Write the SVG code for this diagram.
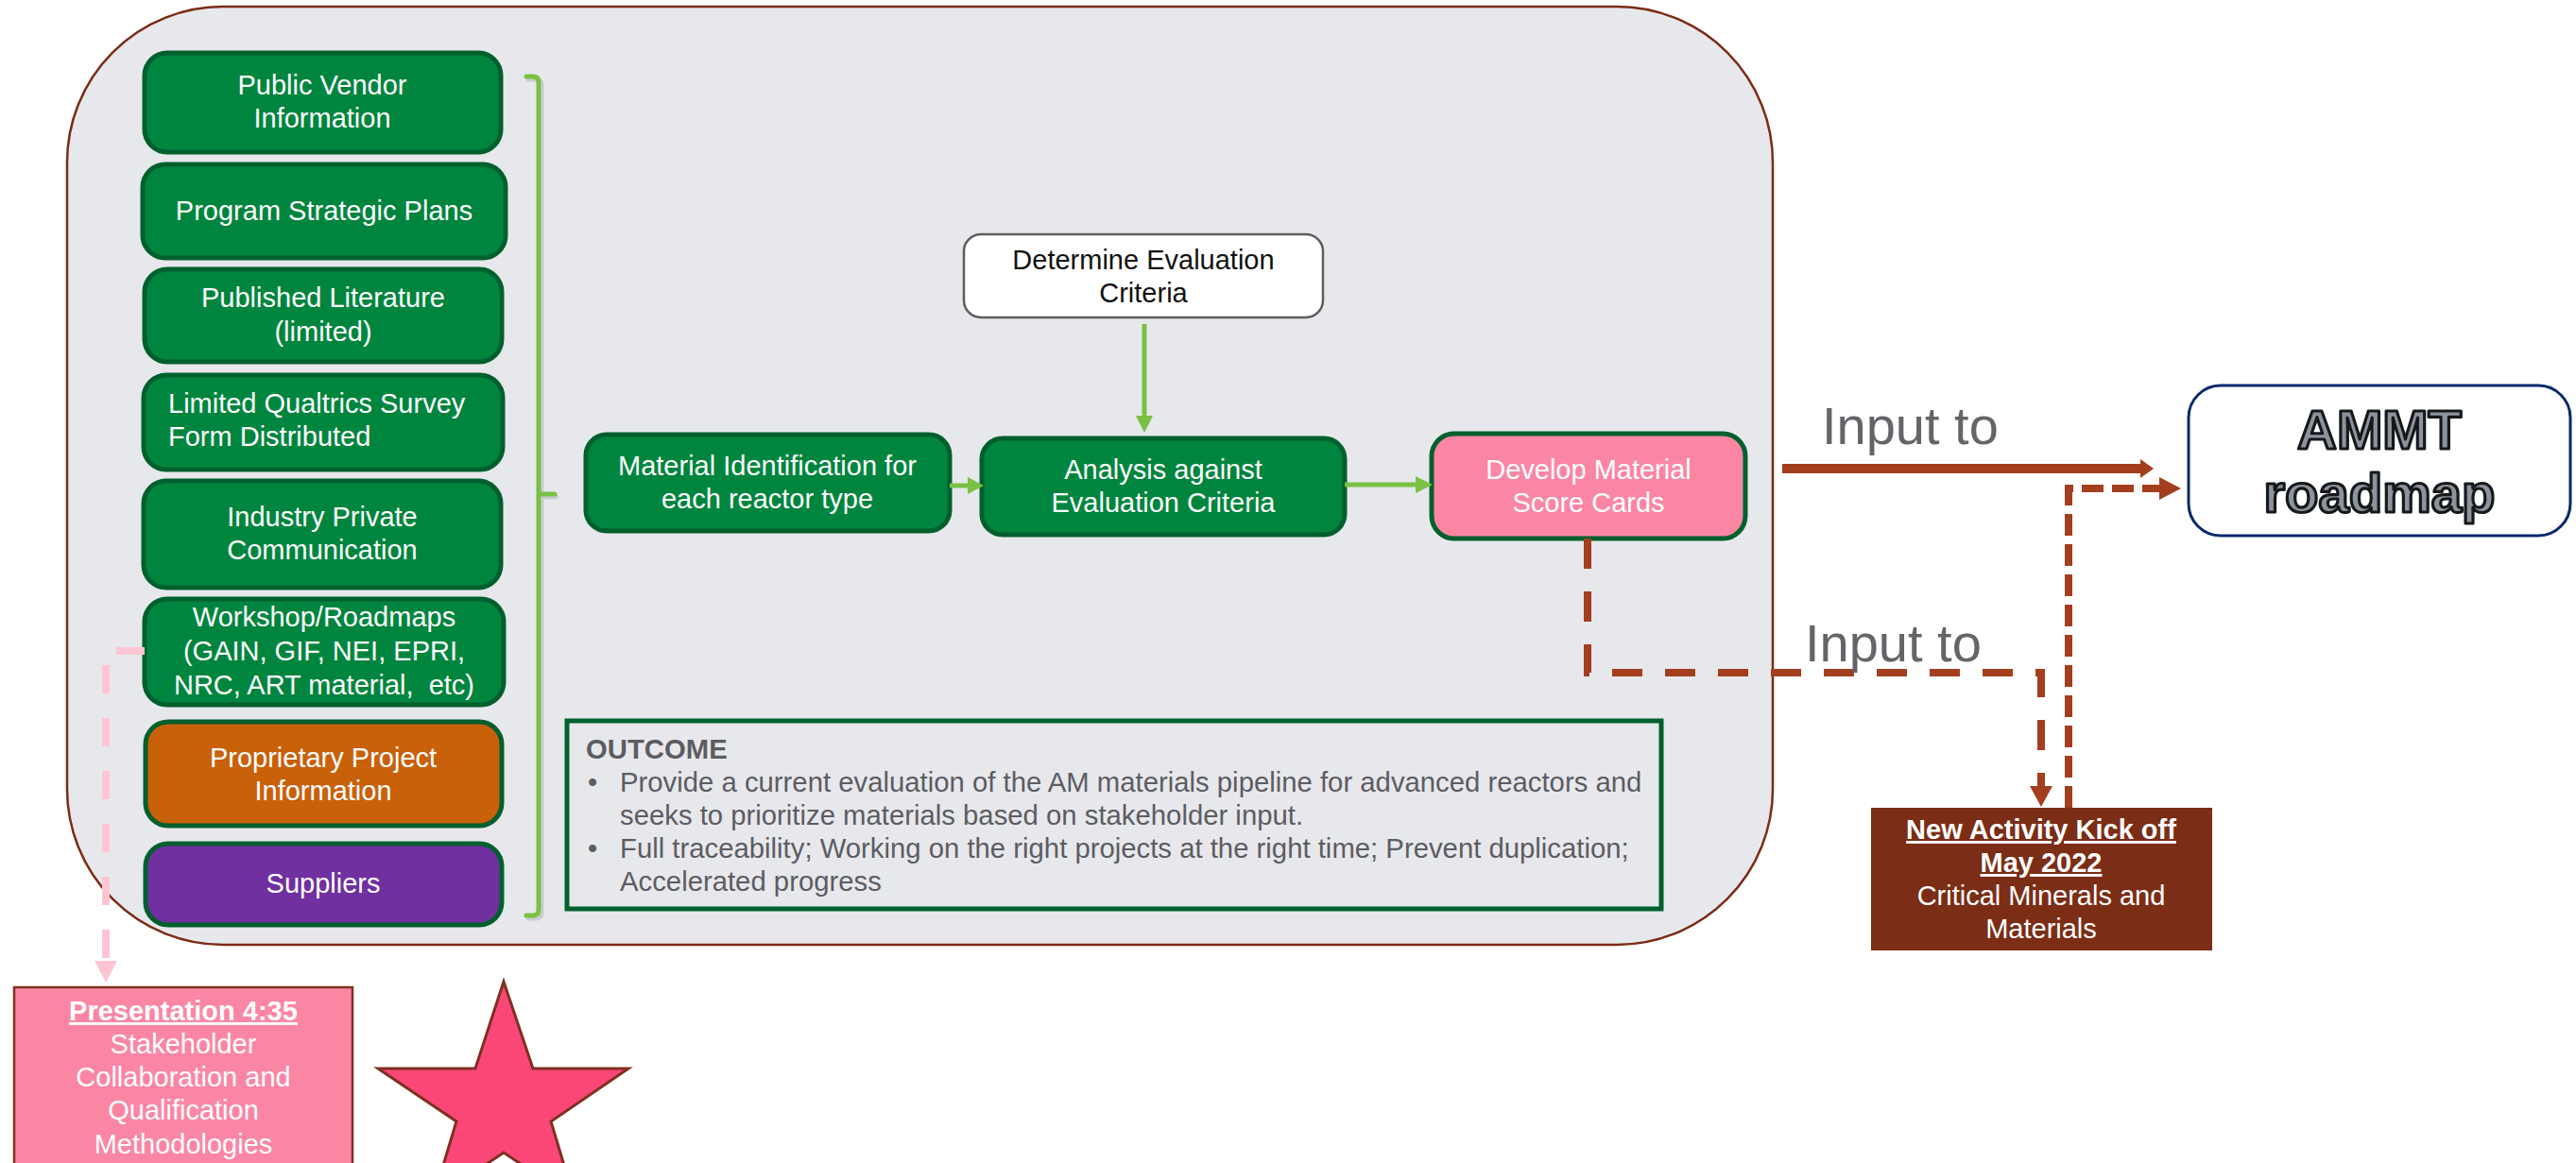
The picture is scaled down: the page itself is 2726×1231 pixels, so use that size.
<svg xmlns="http://www.w3.org/2000/svg" width="2726" height="1231" viewBox="0 0 2726 1231">
<defs>
<style>
text{font-family:"Liberation Sans",Arial,sans-serif}
.g{fill:#00853E;stroke:#00602D;stroke-width:5}
.t{fill:#ffffff;font-size:29px;text-anchor:middle}
.tl{fill:#ffffff;font-size:29px}
.b{font-weight:bold;text-decoration:underline}
.gl{stroke:#7AC143;stroke-width:5;fill:none}
.ga{fill:#7AC143}
.br{stroke:#A33F1F;fill:none;stroke-width:8}
.ba{fill:#A33F1F}
.inp{fill:#646469;font-size:56px}
.oc{fill:#5C5C61;font-size:29.3px}
.am{font-size:58px;font-weight:bold;fill:#8C939C;stroke:#16181A;stroke-width:3.2;stroke-linejoin:round;text-anchor:middle}
</style>
</defs>
<rect width="2726" height="1231" fill="#ffffff"/>
<g id="container">
<rect x="71" y="7" width="1805" height="993" rx="165" ry="165" fill="#E7E8EC" stroke="#7B2C15" stroke-width="2.5"/>
</g>
<g id="bracket">
<path d="M559,84 H567 Q573,84 573,90 V966 Q573,972 567,972 H559 M573,526 H589" stroke="#BFC0C4" stroke-width="5" fill="none" stroke-linecap="round" opacity="0.7"/>
<path d="M557,81 H564 Q570,81 570,87 V963 Q570,969 564,969 H557 M570,523 H587" class="gl" stroke-linecap="round"/>
</g>
<g id="n-public-vendor">
<rect x="153" y="56" width="377" height="105" rx="24" class="g"/>
<text x="341" y="100" class="t">Public Vendor</text>
<text x="341" y="135" class="t">Information</text>
</g>
<g id="n-program-strategic">
<rect x="151" y="174" width="384" height="99" rx="24" class="g"/>
<text x="343" y="233" class="t">Program Strategic Plans</text>
</g>
<g id="n-published-literature">
<rect x="153" y="285" width="378" height="98" rx="24" class="g"/>
<text x="342" y="325" class="t">Published Literature</text>
<text x="342" y="361" class="t">(limited)</text>
</g>
<g id="n-qualtrics">
<rect x="152" y="397" width="380" height="100" rx="24" class="g"/>
<text x="178" y="437" class="tl">Limited Qualtrics Survey</text>
<text x="178" y="472" class="tl">Form Distributed</text>
</g>
<g id="n-industry">
<rect x="152" y="509" width="378" height="113" rx="24" class="g"/>
<text x="341" y="557" class="t">Industry Private</text>
<text x="341" y="592" class="t">Communication</text>
</g>
<g id="n-workshop">
<rect x="153" y="634" width="380" height="112" rx="24" class="g"/>
<text x="343" y="663" class="t">Workshop/Roadmaps</text>
<text x="343" y="699" class="t">(GAIN, GIF, NEI, EPRI,</text>
<text x="343" y="735" class="t" xml:space="preserve">NRC, ART material,  etc)</text>
</g>
<g id="n-proprietary">
<rect x="154" y="764" width="377" height="110" rx="24" fill="#C9600A" stroke="#00602D" stroke-width="5"/>
<text x="342" y="812" class="t">Proprietary Project</text>
<text x="342" y="847" class="t">Information</text>
</g>
<g id="n-suppliers">
<rect x="154" y="893" width="377" height="86" rx="24" fill="#7030A0" stroke="#00602D" stroke-width="5"/>
<text x="342" y="945" class="t">Suppliers</text>
</g>
<g id="n-determine">
<rect x="1020" y="248" width="380" height="88" rx="18" fill="#ffffff" stroke="#5E5E5E" stroke-width="2.5"/>
<text x="1210" y="285" class="t" style="fill:#111111">Determine Evaluation</text>
<text x="1210" y="320" class="t" style="fill:#111111">Criteria</text>
</g>
<g id="n-material-id">
<rect x="620" y="460" width="385" height="102" rx="22" class="g"/>
<text x="812" y="503" class="t">Material Identification for</text>
<text x="812" y="538" class="t">each reactor type</text>
</g>
<g id="n-analysis">
<rect x="1039" y="464" width="384" height="102" rx="22" class="g"/>
<text x="1231" y="507" class="t">Analysis against</text>
<text x="1231" y="542" class="t">Evaluation Criteria</text>
</g>
<g id="n-develop">
<rect x="1515" y="459" width="332" height="111" rx="24" fill="#FB86A4" stroke="#00602D" stroke-width="5"/>
<text x="1681" y="507" class="t">Develop Material</text>
<text x="1681" y="542" class="t">Score Cards</text>
</g>
<g id="n-outcome">
<rect x="600" y="763" width="1158" height="199" fill="none" stroke="#00602D" stroke-width="5"/>
<text x="620" y="803" class="oc" font-weight="bold">OUTCOME</text>
<text x="622" y="838" class="oc">•</text>
<text x="656" y="838" class="oc">Provide a current evaluation of the AM materials pipeline for advanced reactors and</text>
<text x="656" y="873" class="oc">seeks to prioritize materials based on stakeholder input.</text>
<text x="622" y="908" class="oc">•</text>
<text x="656" y="908" class="oc">Full traceability; Working on the right projects at the right time; Prevent duplication;</text>
<text x="656" y="943" class="oc">Accelerated progress</text>
</g>
<g id="n-ammt">
<rect x="2316" y="408" width="404" height="159" rx="34" fill="#ffffff" stroke="#0B2A6B" stroke-width="3"/>
<text x="2518" y="475" class="am">AMMT</text>
<text x="2518" y="542" class="am">roadmap</text>
</g>
<g id="n-new-activity">
<rect x="1980" y="855" width="361" height="151" fill="#7B2D16"/>
<text x="2160" y="888" class="t b">New Activity Kick off</text>
<text x="2160" y="923" class="t b">May 2022</text>
<text x="2160" y="958" class="t">Critical Minerals and</text>
<text x="2160" y="993" class="t">Materials</text>
</g>
<g id="n-presentation">
<rect x="15" y="1045" width="358" height="200" fill="#FB86A4" stroke="#7F3020" stroke-width="2.5"/>
<text x="194" y="1080" class="t b">Presentation 4:35</text>
<text x="194" y="1115" class="t">Stakeholder</text>
<text x="194" y="1150" class="t">Collaboration and</text>
<text x="194" y="1185" class="t">Qualification</text>
<text x="194" y="1221" class="t">Methodologies</text>
</g>
<g id="n-star">
<polygon points="533,1039 564,1131 665,1131 583,1187 608,1270 533,1220 458,1270 483,1187 400,1131 503,1131" fill="#FB4778" stroke="#7F3020" stroke-width="3" stroke-linejoin="miter"/>
</g>
<g id="connectors">
<line x1="1211" y1="343" x2="1211" y2="442" class="gl"/>
<polygon points="1202,440 1220,440 1211,458" class="ga"/>
<line x1="1005" y1="514" x2="1026" y2="514" class="gl"/>
<polygon points="1024,505 1041,514 1024,523" class="ga"/>
<line x1="1423" y1="513" x2="1500" y2="513" class="gl"/>
<polygon points="1498,504 1516,513 1498,522" class="ga"/>
<line x1="1886" y1="496" x2="2268" y2="496" stroke="#A33F1F" stroke-width="10"/>
<polygon points="2265,486 2279,496 2265,506" class="ba"/>
<text x="1928" y="470" class="inp">Input to</text>
<path d="M1680,570 V712 H2160 V834" class="br" stroke-dasharray="32 24"/>
<polygon points="2148,832 2172,832 2160,854" class="ba"/>
<text x="1910" y="700" class="inp">Input to</text>
<path d="M2189,855 V517 H2287" class="br" stroke-dasharray="23 9"/>
<polygon points="2285,505 2308,517 2285,529" class="ba"/>
<path d="M153,689 H112 V1018" stroke="#FFC5D5" stroke-width="8" fill="none" stroke-dasharray="30 26"/>
<polygon points="100,1017 124,1017 112,1040" fill="#FFC5D5"/>
</g>
</svg>
